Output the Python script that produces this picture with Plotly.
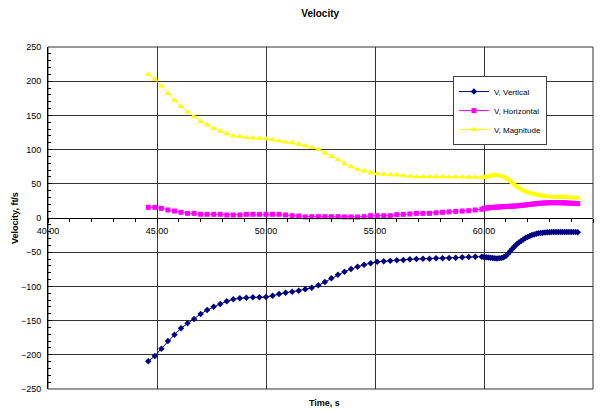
import plotly.graph_objects as go

# Sample times (s): coarse samples every 0.3 s, then dense samples every 0.1 s
t_coarse = [44.6, 44.9, 45.2, 45.5, 45.8, 46.1, 46.4, 46.7, 47.0, 47.3,
            47.6, 47.9, 48.2, 48.5, 48.8, 49.1, 49.4, 49.7, 50.0, 50.3,
            50.6, 50.9, 51.2, 51.5, 51.8, 52.1, 52.4, 52.7, 53.0, 53.3,
            53.6, 53.9, 54.2, 54.5, 54.8, 55.1, 55.4, 55.7, 56.0, 56.3,
            56.6, 56.9, 57.2, 57.5, 57.8, 58.1, 58.4, 58.7, 59.0, 59.3,
            59.6, 59.9]
t_fine = [60.0, 60.1, 60.2, 60.3, 60.4, 60.5, 60.6, 60.7, 60.8, 60.9,
          61.0, 61.1, 61.2, 61.3, 61.4, 61.5, 61.6, 61.7, 61.8, 61.9,
          62.0, 62.1, 62.2, 62.3, 62.4, 62.5, 62.6, 62.7, 62.8, 62.9,
          63.0, 63.1, 63.2, 63.3, 63.4, 63.5, 63.6, 63.7, 63.8, 63.9,
          64.0, 64.1, 64.2, 64.3]
time = t_coarse + t_fine

# Vertical velocity (ft/s)
v_vertical = [-209.5, -201.8, -191.0, -180.0, -170.6, -161.3, -154.0, -147.7, -140.4, -134.5,
              -129.7, -125.7, -121.8, -118.9, -117.4, -116.5, -116.0, -116.0, -115.5, -113.6,
              -111.0, -109.2, -107.7, -106.3, -104.3, -101.9, -98.4, -93.6, -88.2, -82.9,
              -78.5, -74.6, -71.2, -68.2, -66.2, -63.9, -63.3, -62.4, -61.9, -61.4,
              -60.4, -59.9, -59.5, -59.5, -59.0, -59.0, -58.5, -58.0, -57.5, -57.0,
              -56.5, -56.5,
              -57.0, -57.4, -57.8, -58.2, -58.6, -58.9, -59.1, -59.0, -58.5, -57.4,
              -55.4, -52.4, -48.7, -45.0, -41.5, -38.5, -36.0, -33.5, -31.3, -29.3,
              -27.6, -26.2, -25.0, -24.0, -23.1, -22.4, -21.8, -21.4, -21.1, -20.9,
              -20.7, -20.6, -20.5, -20.5, -20.4, -20.4, -20.4, -20.4, -20.5, -20.5,
              -20.5, -20.6, -20.6, -20.7]

# Horizontal velocity (ft/s)
v_horizontal = [15.6, 15.6, 14.1, 11.7, 10.2, 8.3, 6.8, 6.8, 5.4, 5.4,
                5.4, 5.4, 4.4, 4.4, 4.4, 5.4, 5.4, 5.4, 5.4, 5.4,
                5.4, 4.4, 3.4, 2.9, 1.5, 2.0, 2.0, 2.0, 2.0, 2.0,
                1.5, 1.5, 1.5, 2.0, 3.4, 3.4, 3.4, 3.4, 4.9, 5.3,
                5.8, 6.8, 6.8, 6.8, 7.6, 8.3, 9.0, 9.7, 10.2, 10.7,
                11.7, 12.7,
                14.1, 14.5, 14.9, 15.2, 15.5, 15.8, 16.0, 16.2, 16.4, 16.6,
                16.8, 17.0, 17.1, 17.3, 17.5, 17.8, 18.1, 18.4, 18.7, 19.1,
                19.5, 19.9, 20.3, 20.7, 21.0, 21.3, 21.6, 21.8, 22.0, 22.2,
                22.3, 22.4, 22.4, 22.4, 22.4, 22.3, 22.2, 22.1, 22.0, 21.8,
                21.6, 21.4, 21.2, 21.0]

# Velocity magnitude (ft/s)
v_magnitude = [210.0, 203.0, 193.0, 182.0, 172.0, 163.0, 155.0, 148.0, 141.0, 136.0,
               131.0, 127.0, 123.0, 120.0, 119.0, 117.5, 117.0, 116.5, 116.0, 114.5,
               112.6, 111.0, 110.0, 108.0, 105.7, 103.0, 100.0, 95.0, 90.0, 85.0,
               79.4, 75.0, 71.2, 68.7, 66.3, 64.8, 63.8, 63.4, 62.9, 61.9,
               61.0, 60.4, 60.4, 60.4, 60.4, 60.4, 60.0, 60.0, 60.0, 59.5,
               59.5, 59.5,
               59.5, 60.1, 60.8, 61.5, 62.1, 62.5, 62.6, 62.3, 61.5, 60.2,
               58.4, 56.2, 53.8, 51.3, 48.9, 46.6, 44.3, 42.3, 40.6, 39.1,
               37.8, 36.6, 35.6, 34.7, 33.9, 33.3, 32.7, 32.2, 31.8, 31.4,
               31.1, 30.8, 30.6, 30.4, 30.3, 30.2, 30.1, 30.0, 29.9, 29.8,
               29.7, 29.6, 29.6, 29.5]

series_names = ["V, Vertical", "V, Horizontal", "V, Magnitude"]
x_ticks = [40, 45, 50, 55, 60, 65]
y_ticks = [-250, -200, -150, -100, -50, 0, 50, 100, 150, 200, 250]

FONT = "Arial, Liberation Sans, sans-serif"
GRID = "#333333"

styles = [
    dict(color="#000080", symbol="diamond", size=5),
    dict(color="#FF00FF", symbol="square", size=5),
    dict(color="#FFFF00", symbol="triangle-up", size=6),
]

fig = go.Figure()
for name, vals, st in zip(series_names, [v_vertical, v_horizontal, v_magnitude], styles):
    fig.add_trace(go.Scatter(
        x=time, y=vals, name=name, mode="lines+markers",
        line=dict(color=st["color"], width=1),
        marker=dict(symbol=st["symbol"], size=st["size"], color=st["color"],
                    line=dict(width=0)),
    ))

fig.update_layout(
    width=603, height=410,
    margin=dict(l=48, r=10, t=47, b=21),
    paper_bgcolor="white", plot_bgcolor="white",
    font=dict(family=FONT, size=9, color="black"),
    title=dict(text="<b>Velocity</b>", x=0.531, xanchor="center",
               y=0.968, yanchor="middle", font=dict(size=10, family=FONT)),
    xaxis=dict(
        range=[40, 65], tickvals=x_ticks, tickformat=".2f",
        showgrid=True, gridcolor=GRID, gridwidth=1,
        showline=True, linecolor="black", linewidth=1,
        anchor="free", position=0.5,
        ticks="outside", ticklen=4, tickcolor="black",
        minor=dict(dtick=1, ticks="outside", ticklen=3, tickcolor="black", showgrid=False),
        zeroline=False, tickfont=dict(size=9),
    ),
    yaxis=dict(
        range=[-250, 250], tickvals=y_ticks,
        showgrid=True, gridcolor=GRID, gridwidth=1,
        showline=True, linecolor="black", linewidth=1,
        ticks="inside", ticklen=4, tickcolor="black",
        minor=dict(dtick=10, ticks="inside", ticklen=3, tickcolor="black", showgrid=False),
        zeroline=False, tickfont=dict(size=9), ticklabelstandoff=4,
    ),
    legend=dict(
        x=0.743, y=0.915, xanchor="left", yanchor="top",
        bgcolor="white", bordercolor="#404040", borderwidth=1,
        font=dict(size=8, family=FONT), itemwidth=30,
        tracegroupgap=0,
    ),
    showlegend=True,
    shapes=[dict(type="rect", xref="paper", yref="paper", x0=0, x1=1, y0=0, y1=1,
                 line=dict(color=GRID, width=1), layer="below")],
    annotations=[
        dict(text="<b>Time, s</b>", xref="paper", yref="paper", x=0.508, y=-0.041,
             xanchor="center", yanchor="middle", showarrow=False,
             font=dict(size=9, family=FONT)),
        dict(text="<b>Velocity, ft/s</b>", xref="paper", yref="paper", x=-0.0606, y=0.5,
             xanchor="center", yanchor="middle", textangle=-90, showarrow=False,
             font=dict(size=9, family=FONT)),
    ],
)

fig.write_html("out.html")
